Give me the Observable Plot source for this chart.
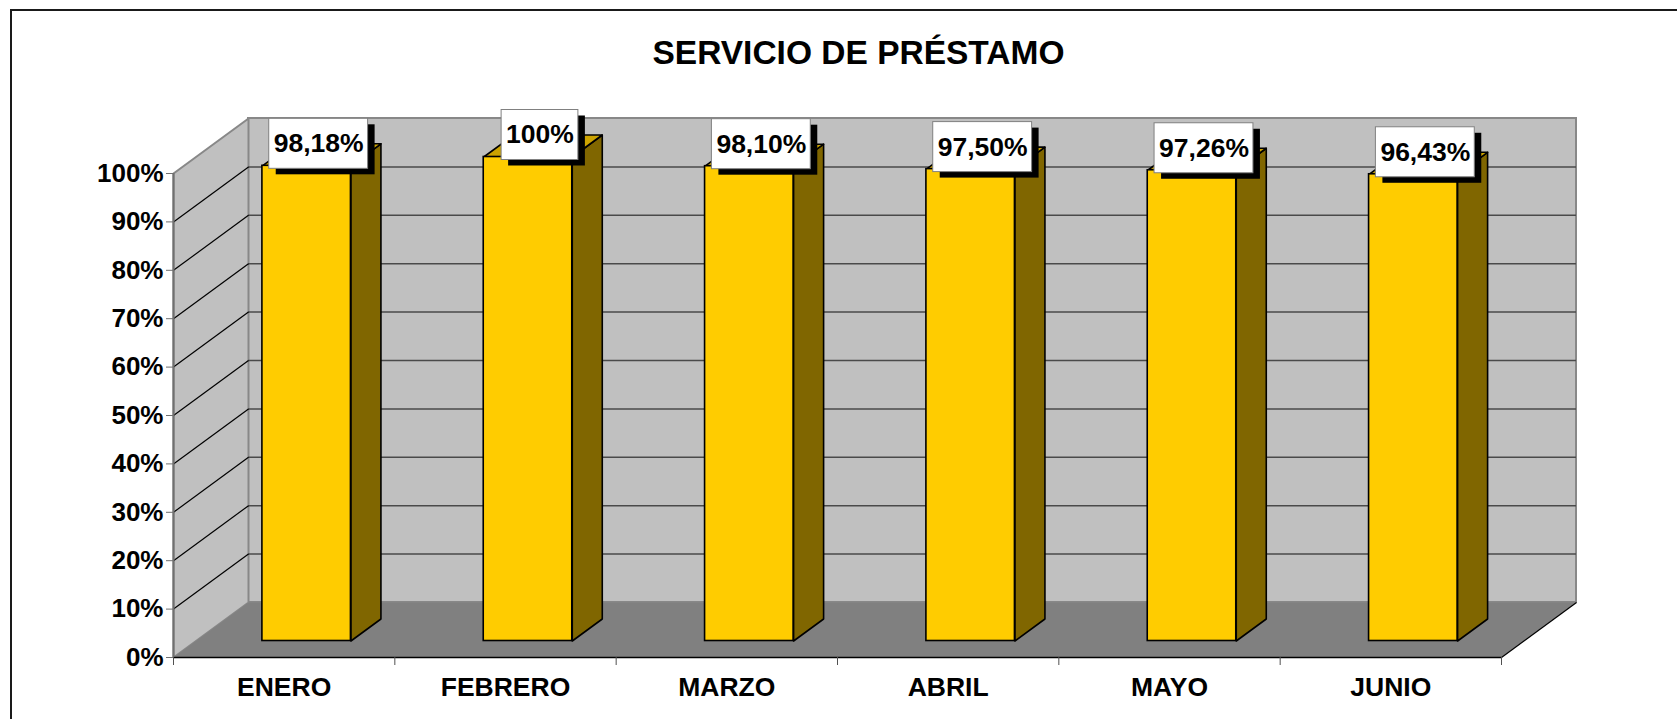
<!DOCTYPE html>
<html><head><meta charset="utf-8">
<script src="https://cdn.jsdelivr.net/npm/d3@7"></script>
<script src="https://cdn.jsdelivr.net/npm/@observablehq/plot@0.6"></script>
<style>
html,body{margin:0;padding:0;background:#fff;}
#wrap{position:relative;width:1677px;height:719px;overflow:hidden;}
#wrap svg{position:absolute;left:0;top:0;}
#border{position:absolute;left:10px;top:9px;width:2000px;height:2000px;border-left:2px solid #1a1a1a;border-top:2px solid #1a1a1a;pointer-events:none;}
</style></head><body><div id="wrap"><div id="border"></div></div>
<script>
// ---- data ----
const title = "SERVICIO DE PRÉSTAMO";
const months = ["ENERO", "FEBRERO", "MARZO", "ABRIL", "MAYO", "JUNIO"];
const values = [98.18, 100, 98.10, 97.50, 97.26, 96.43];
const valueLabels = ["98,18%", "100%", "98,10%", "97,50%", "97,26%", "96,43%"];
const yTicks = [0, 10, 20, 30, 40, 50, 60, 70, 80, 90, 100];

// ---- layout (pixels) ----
const W = 1677, H = 719;
const mL = 173, mR = 176, mT = 173, mB = 62;
const pxX = (W - mL - mR) / months.length;   // px per category unit
const pxY = (H - mT - mB) / 100;             // px per percent
const DX = 75 / pxX, DY = 55 / pxY;          // depth offset in data units
const d0 = 0.3, d1 = 0.7, half = 0.2;        // bar depth range and half width
const FONT = "Liberation Sans, Arial, Helvetica, sans-serif";
const LBL = 26.5;

// ---- geometry in data units ----
const sideWall = [[0,0],[0,100],[DX,100+DY],[DX,DY]].map(([x,y]) => ({id:"w", x, y}));
const floor = [[0,0],[months.length,0],[months.length+DX,DY],[DX,DY]].map(([x,y]) => ({id:"f", x, y}));

const bars = months.map((m, i) => ({i, m, v: values[i]}));
const sidePts = [], topPts = [];
bars.forEach(b => {
  const xl = b.i + 0.5 - half, xr = b.i + 0.5 + half;
  [[xr + d0*DX, d0*DY], [xr + d0*DX, b.v + d0*DY], [xr + d1*DX, b.v + d1*DY], [xr + d1*DX, d1*DY]]
    .forEach(([x,y]) => sidePts.push({id: b.i, x, y}));
  [[xl + d0*DX, b.v + d0*DY], [xr + d0*DX, b.v + d0*DY], [xr + d1*DX, b.v + d1*DY], [xl + d1*DX, b.v + d1*DY]]
    .forEach(([x,y]) => topPts.push({id: b.i, x, y}));
});

const ctx = document.createElement("canvas").getContext("2d");
ctx.font = "bold " + LBL + "px " + FONT;
const labels = bars.map(b => {
  const tw = ctx.measureText(valueLabels[b.i]).width;
  const cx = b.i + 0.5 + 0.5*DX - 3/pxX;
  const cy = b.v + 0.5*DY + 11/pxY;
  const hw = (tw + 9) / 2 / pxX, hh = 25 / pxY;
  return {text: valueLabels[b.i], cx, cy, x1: cx - hw, x2: cx + hw, y1: cy - hh, y2: cy + hh};
});

const inner = yTicks.filter(t => t > 0 && t < 100);

const chart = Plot.plot({
  width: W, height: H,
  marginLeft: mL, marginRight: mR, marginTop: mT, marginBottom: mB,
  x: {domain: [0, months.length]},
  y: {domain: [0, 100]},
  style: {fontFamily: FONT, fontSize: "26px", fontWeight: "bold", color: "black", background: "transparent", overflow: "visible"},
  marks: [
    // back wall
    Plot.rect([0], {x1: DX, x2: months.length + DX, y1: DY, y2: 100 + DY, fill: "#C0C0C0", stroke: "#888888", strokeWidth: 2}),
    // side wall
    Plot.line(sideWall, {x: "x", y: "y", z: "id", curve: "linear-closed", fill: "#C0C0C0", stroke: "#888888", strokeWidth: 2}),
    // gridlines on back wall
    Plot.ruleY(inner, {y: d => d + DY, x1: DX, x2: months.length + DX, stroke: "#4a4a4a", strokeWidth: 1.5}),
    // gridlines on side wall
    Plot.link(inner, {x1: 0, y1: d => d, x2: DX, y2: d => d + DY, stroke: "#000", strokeWidth: 1.2}),
    // floor
    Plot.line(floor, {x: "x", y: "y", z: "id", curve: "linear-closed", fill: "#808080", stroke: "none"}),
    Plot.ruleY([0], {x1: 0, x2: months.length, stroke: "#000", strokeWidth: 1.5}),
    Plot.link([0], {x1: months.length, y1: 0, x2: months.length + DX, y2: DY, stroke: "#000", strokeWidth: 1.2}),
    Plot.ruleX([0], {y1: 0, y2: 100, stroke: "#707070", strokeWidth: 2}),
    // bars
    Plot.line(sidePts, {x: "x", y: "y", z: "id", curve: "linear-closed", fill: "#806600", stroke: "#000", strokeWidth: 1.6}),
    Plot.line(topPts, {x: "x", y: "y", z: "id", curve: "linear-closed", fill: "#CCA300", stroke: "#000", strokeWidth: 1.6}),
    Plot.rect(bars, {x1: b => b.i + 0.5 - half + d0*DX, x2: b => b.i + 0.5 + half + d0*DX, y1: d0*DY, y2: b => b.v + d0*DY, fill: "#FFCC00", stroke: "#000", strokeWidth: 1.6}),
    // value labels
    Plot.rect(labels, {x1: "x1", x2: "x2", y1: "y1", y2: "y2", fill: "#000", dx: 7, dy: 6}),
    Plot.rect(labels, {x1: "x1", x2: "x2", y1: "y1", y2: "y2", fill: "#fff", stroke: "#808080", strokeWidth: 1}),
    Plot.text(labels, {x: "cx", y: "cy", text: "text", fontSize: LBL, fontWeight: "bold", lineAnchor: "middle", fill: "#000"}),
    // axes
    Plot.axisY({ticks: yTicks, anchor: "left", tickSize: 7, tickPadding: 3, tickFormat: d => d + "%", label: null, stroke: "#707070", fill: "#000", fontSize: 26, fontWeight: "bold"}),
    Plot.axisX({ticks: d3.range(0, months.length + 1), anchor: "bottom", tickSize: 8, tickFormat: () => "", label: null, stroke: "#505050"}),
    Plot.axisX({ticks: months.map((m, i) => i + 0.5), anchor: "bottom", tickSize: 0, tickPadding: 20, tickFormat: d => months[Math.floor(d)], label: null, fill: "#000", fontSize: 26.5, fontWeight: "bold"}),
    // title
    Plot.text([title], {frameAnchor: "top", dx: 21, dy: -120, lineAnchor: "middle", fontSize: 33.5, fontWeight: "bold", fill: "#000"})
  ]
});
document.getElementById("wrap").appendChild(chart);
</script>
</body></html>
